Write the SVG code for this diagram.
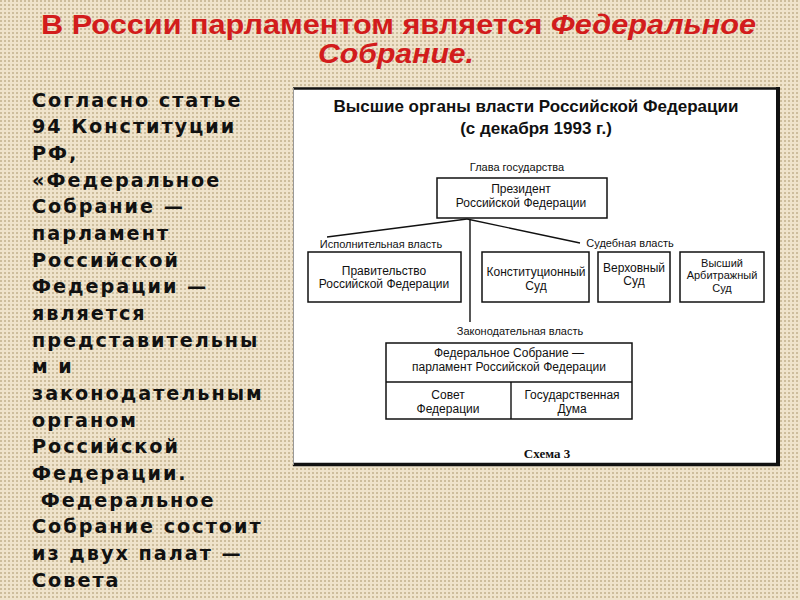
<svg xmlns="http://www.w3.org/2000/svg" width="800" height="600" viewBox="0 0 800 600">
<defs>
<pattern id="bg" width="4" height="4" patternUnits="userSpaceOnUse">
<rect width="4" height="4" fill="#efe3cb"/>
<rect width="2" height="2" fill="#cdbd9c"/>
</pattern>
<style>
.ttl{font-family:"Liberation Sans",Arial,sans-serif;font-weight:bold;font-size:28px;fill:#d21c1c;text-anchor:middle}
.it{font-style:italic}
.body{font-family:"DejaVu Sans",sans-serif;font-weight:bold;font-size:19.2px;fill:#111;letter-spacing:2px}
.dh{font-family:"Liberation Sans",Arial,sans-serif;font-weight:bold;font-size:17px;fill:#111;text-anchor:middle}
.lbl{font-family:"Liberation Sans",Arial,sans-serif;font-size:11px;fill:#111;text-anchor:middle}
.nt{font-family:"Liberation Sans",Arial,sans-serif;font-size:12px;fill:#111;text-anchor:middle}
.sm{font-size:11px}
.box{fill:#fff;stroke:#111;stroke-width:1.5}
.con{stroke:#111;stroke-width:1.4;fill:none}
.cap{font-family:"Liberation Serif","Times New Roman",serif;font-weight:bold;font-size:13px;fill:#111;text-anchor:middle}
</style>
</defs>
<rect width="800" height="600" fill="url(#bg)"/>

<g id="title">
<text class="ttl" x="398.5" y="34" textLength="715" lengthAdjust="spacingAndGlyphs">В России парламентом является <tspan class="it">Федеральное</tspan></text>
<text class="ttl it" x="396" y="63" textLength="156" lengthAdjust="spacingAndGlyphs">Собрание.</text>
</g>

<g id="left-text" class="body">
<text x="32" y="106.7">Согласно статье</text>
<text x="32" y="133.3">94 Конституции</text>
<text x="32" y="160">РФ,</text>
<text x="32" y="186.7">«Федеральное</text>
<text x="32" y="213.3">Собрание —</text>
<text x="32" y="240">парламент</text>
<text x="32" y="266.6">Российской</text>
<text x="32" y="293.3">Федерации —</text>
<text x="32" y="320">является</text>
<text x="32" y="346.6">представительны</text>
<text x="32" y="373.3">м и</text>
<text x="32" y="400">законодательным</text>
<text x="32" y="426.6">органом</text>
<text x="32" y="453.3">Российской</text>
<text x="32" y="480">Федерации.</text>
<text x="32" y="506.6" xml:space="preserve"> Федеральное</text>
<text x="32" y="533.3">Собрание состоит</text>
<text x="32" y="560">из двух палат —</text>
<text x="32" y="586.6">Совета</text>
</g>

<g id="frame">
<rect x="293" y="88" width="485" height="377" fill="#fff"/>
<line x1="293" y1="88.5" x2="780" y2="88.5" stroke="#111" stroke-width="2.5"/>
<line x1="778" y1="87" x2="778" y2="466" stroke="#111" stroke-width="4"/>
<line x1="293" y1="464.5" x2="780" y2="464.5" stroke="#111" stroke-width="3.5"/>
<line x1="293.5" y1="88" x2="293.5" y2="465" stroke="#999" stroke-width="1"/>
</g>

<g id="diagram-title">
<text class="dh" x="536" y="112">Высшие органы власти Российской Федерации</text>
<text class="dh" x="536" y="134">(с декабря 1993 г.)</text>
</g>

<g id="connectors">
<line class="con" x1="467" y1="219" x2="327" y2="237"/>
<line class="con" x1="467" y1="219" x2="580" y2="243"/>
<line class="con" x1="470" y1="219" x2="470" y2="322"/>
</g>

<g id="labels">
<text class="lbl" x="381" y="248">Исполнительная власть</text>
<text class="lbl" x="517" y="171">Глава государства</text>
<text class="lbl" x="630" y="247">Судебная власть</text>
<text class="lbl" x="520" y="335">Законодательная власть</text>
</g>

<g id="president">
<rect class="box" x="437" y="178" width="170" height="40"/>
<text class="nt" x="521" y="193">Президент</text>
<text class="nt" x="521" y="206.5">Российской Федерации</text>
</g>

<g id="government">
<rect class="box" x="308" y="252" width="153" height="50"/>
<text class="nt" x="384" y="274.5">Правительство</text>
<text class="nt" x="384" y="288">Российской Федерации</text>
</g>

<g id="constitutional-court">
<rect class="box" x="482" y="252" width="107" height="50"/>
<text class="nt" x="536" y="276">Конституционный</text>
<text class="nt" x="536" y="289.5">Суд</text>
</g>

<g id="supreme-court">
<rect class="box" x="598" y="252" width="72" height="50"/>
<text class="nt" x="634" y="271.5">Верховный</text>
<text class="nt" x="634" y="285">Суд</text>
</g>

<g id="arbitration-court">
<rect class="box" x="680" y="252" width="84" height="50"/>
<text class="nt sm" x="722" y="266.5">Высший</text>
<text class="nt sm" x="722" y="279">Арбитражный</text>
<text class="nt sm" x="722" y="291.5">Суд</text>
</g>

<g id="federal-assembly">
<rect class="box" x="386" y="343" width="246" height="76"/>
<line class="con" x1="386" y1="382" x2="632" y2="382"/>
<line class="con" x1="511" y1="382" x2="511" y2="419"/>
<text class="nt" x="509" y="357">Федеральное Собрание —</text>
<text class="nt" x="509" y="370.5">парламент Российской Федерации</text>
</g>

<g id="federation-council">
<text class="nt" x="448" y="399">Совет</text>
<text class="nt" x="448" y="412.5">Федерации</text>
</g>

<g id="state-duma">
<text class="nt" x="572" y="399">Государственная</text>
<text class="nt" x="572" y="412.5">Дума</text>
</g>

<g id="caption">
<text class="cap" x="547" y="458">Схема 3</text>
</g>
</svg>
